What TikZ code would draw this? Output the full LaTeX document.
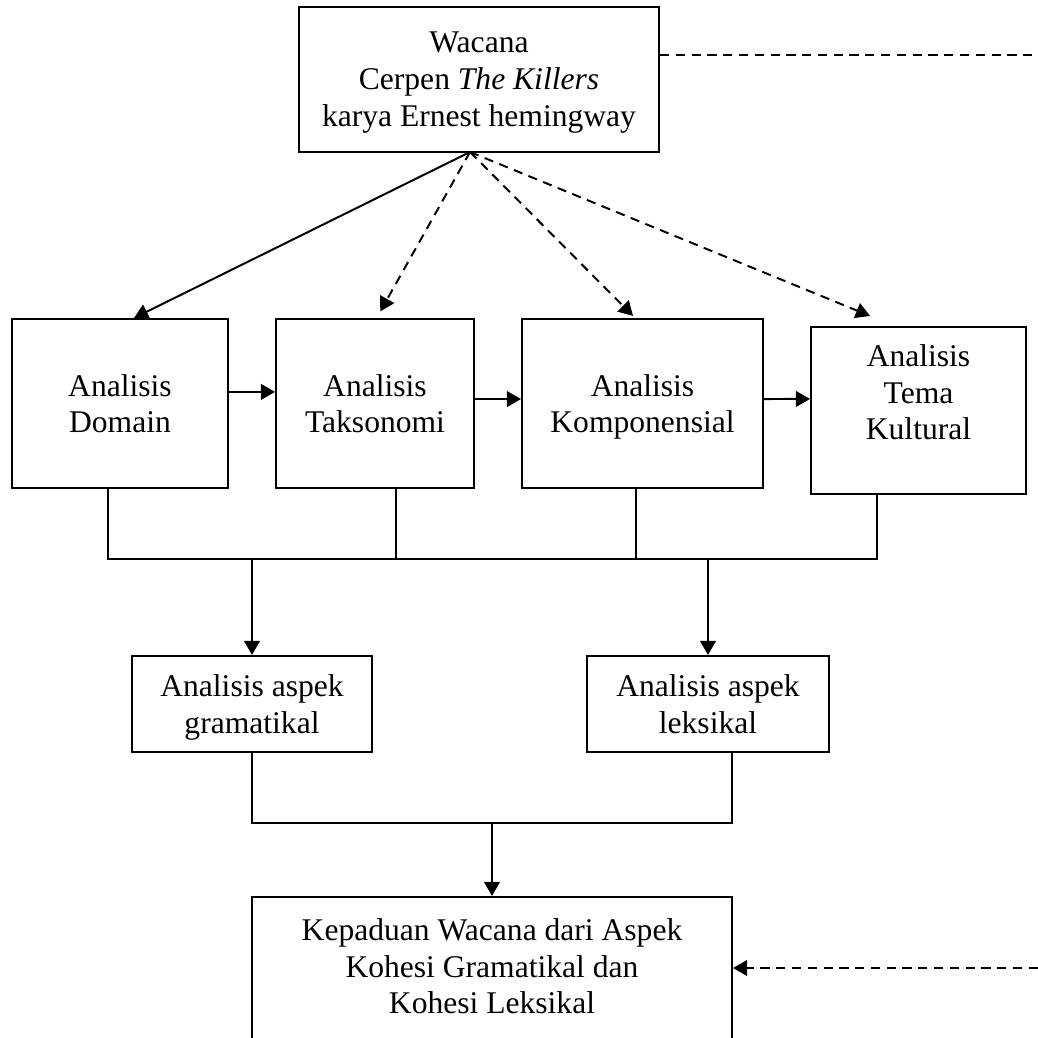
\documentclass[tikz,border=0pt]{standalone}
\usepackage{fontspec}
\setmainfont{Liberation Serif}
\usepackage{tikz}
\usetikzlibrary{arrows.meta}
\usetikzlibrary{positioning}
\tikzstyle{flow_box}=[rectangle, draw=black, align=center, inner sep=0pt, text depth=0pt]
\tikzstyle{flow_arrow}=[-{Triangle[length=5.4pt,width=6pt]}]
\tikzstyle{flow_dash}=[dash pattern=on 3.5pt off 2.5pt]

\begin{document}
\begin{tikzpicture}[x=0.38pt, y=-0.38pt, line width=0.75pt, font=\fontsize{12pt}{14pt}\selectfont]
          \useasboundingbox (0,0) rectangle (1038,1038);
          \clip (0,0) rectangle (1038,1038);
          \node[flow_box, minimum width=136.8pt, minimum height=55.1pt] (wacana) at (479,79.5){Wacana\\Cerpen \textit{The Killers}\\karya Ernest hemingway};
          \node[flow_box, minimum width=82.1pt, minimum height=64.2pt] (domain) at (120,403.5){Analisis\\Domain};
          \node[flow_box, minimum width=75.2pt, minimum height=64.2pt] (taksonomi) at (375,403.5){Analisis\\Taksonomi};
          \node[flow_box, minimum width=91.6pt, minimum height=64.2pt] (komponensial) at (642.5,403.5){Analisis\\Komponensial};
          \node[flow_box, minimum width=81.7pt, minimum height=63.5pt] (tema) at (918.5,410.5){Analisis\\Tema\\Kultural\\ \mbox{}};
          \node[flow_box, minimum width=91.2pt, minimum height=36.5pt] (gramatikal) at (252,704){Analisis aspek\\gramatikal};
          \node[flow_box, minimum width=91.6pt, minimum height=36.5pt] (leksikal) at (708,704){Analisis aspek\\leksikal};
          \node[flow_box, minimum width=182.4pt, minimum height=80.6pt] (kepaduan) at (492,1003){Kepaduan Wacana dari Aspek\\Kohesi Gramatikal dan\\Kohesi Leksikal\\ \mbox{}\\ \mbox{}};
          \coordinate (fan) at (470,152);
          \coordinate (loopin) at (1038,55);
          \coordinate (loopout) at (1038,968);
          \coordinate (busl) at (108,559);
          \coordinate (busr) at (877,559);
          \coordinate (tapt) at (396,559);
          \coordinate (tapk) at (636,559);
          \coordinate (joinl) at (252,823);
          \coordinate (joinr) at (732,823);
          \draw[flow_dash](wacana.east |- loopin) -- (loopin);
          \draw[flow_arrow](fan) -- ([xshift=5.3pt]domain.north);
          \draw[flow_arrow, flow_dash](fan) -- ([xshift=2pt, yshift=2.5pt]taksonomi.north);
          \draw[flow_arrow, flow_dash](fan) -- ([xshift=-3.6pt, yshift=0.8pt]komponensial.north);
          \draw[flow_arrow, flow_dash](fan) -- ([xshift=-18.4pt, yshift=3.8pt]tema.north);
          \draw[flow_arrow]([yshift=4.4pt]domain.east) -- ([yshift=4.4pt]taksonomi.west);
          \draw[flow_arrow]([yshift=1.7pt]taksonomi.east) -- ([yshift=1.7pt]komponensial.west);
          \draw[flow_arrow]([yshift=1.7pt]komponensial.east) -- ([yshift=4.4pt]tema.west);
          \draw[](domain.south -| busl) -- (busl) -- (busr) -- (tema.south -| busr);
          \draw[](taksonomi.south -| tapt) -- (tapt);
          \draw[](komponensial.south -| tapk) -- (tapk);
          \draw[flow_arrow](gramatikal.north |- busl) -- (gramatikal.north);
          \draw[flow_arrow](leksikal.north |- busl) -- (leksikal.north);
          \draw[](gramatikal.south) -- (joinl) -- (joinr) -- (leksikal.south -| joinr);
          \draw[flow_arrow](kepaduan.north |- joinl) -- (kepaduan.north);
          \draw[flow_arrow, flow_dash](loopout) -- (kepaduan.east |- loopout);
        \end{tikzpicture}
\end{document}
